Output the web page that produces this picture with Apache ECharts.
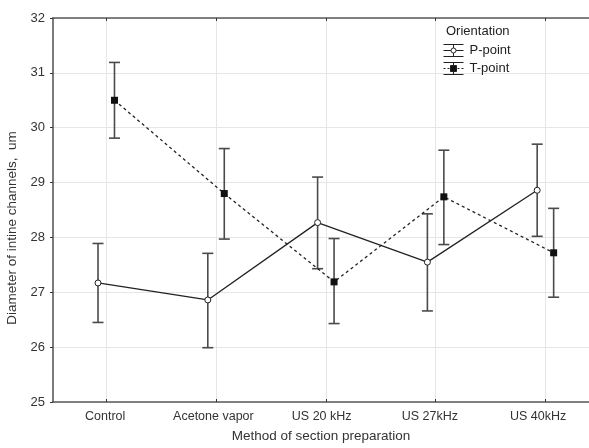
<!DOCTYPE html>
<html><head><meta charset="utf-8">
<script src="https://cdn.jsdelivr.net/npm/echarts@6/dist/echarts.min.js"></script>
<style>html,body{margin:0;padding:0;background:#fff}#c{width:589px;height:448px}</style>
</head><body><div id="c"></div>
<script>
const categories = ['Control', 'Acetone vapor', 'US 20 kHz', 'US 27kHz', 'US 40kHz'];
const pMean = [27.17, 26.86, 28.27, 27.55, 28.86];
const pLow  = [26.45, 25.99, 27.43, 26.66, 28.02];
const pHigh = [27.89, 27.71, 29.10, 28.43, 29.70];
const tMean = [30.50, 28.80, 27.19, 28.74, 27.72];
const tLow  = [29.81, 27.97, 26.43, 27.87, 26.91];
const tHigh = [31.19, 29.62, 27.98, 29.59, 28.53];
const yMin = 25, yMax = 32, yStep = 1;

const FONT = 'Liberation Sans, Arial, sans-serif';
const OFF = 0.075; // horizontal dodge of the two groups
const idx = categories.map((c, i) => i);

const pLine = idx.map(i => [i - OFF, pMean[i]]);
const tLine = idx.map(i => [i + OFF, tMean[i]]);
const pErr = idx.map(i => [i - OFF, pLow[i], pHigh[i]]);
const tErr = idx.map(i => [i + OFF, tLow[i], tHigh[i]]);

function errRender(params, api) {
  const x = api.value(0);
  const lo = api.coord([x, api.value(1)]);
  const hi = api.coord([x, api.value(2)]);
  const cap = 5.5;
  const st = { stroke: '#4a4a4a', lineWidth: 1.6 };
  return {
    type: 'group',
    children: [
      { type: 'line', shape: { x1: lo[0], y1: lo[1], x2: hi[0], y2: hi[1] }, style: st },
      { type: 'line', shape: { x1: lo[0] - cap, y1: lo[1], x2: lo[0] + cap, y2: lo[1] }, style: st },
      { type: 'line', shape: { x1: hi[0] - cap, y1: hi[1], x2: hi[0] + cap, y2: hi[1] }, style: st }
    ]
  };
}

const tickVals = idx.slice();
const labelVals = idx.map(i => i - 0.01 - 0.014 * i);
const X_MIN = -0.485, X_MAX = 4.397;

const iconP = 'path://M0,0H20M10,0V3.5M0,6H7.5M12.5,6H20M10,8.5V12M0,12H20M12.5,6A2.5,2.5,0,1,1,7.5,6A2.5,2.5,0,1,1,12.5,6Z';
const iconT = 'path://M0,0H20M10,0V3M0,6H2M4,6H6M14,6H16M18,6H20M10,9V12M0,12H20M7,3H13V9H7Z';

const chart = echarts.init(document.getElementById('c'), null, { renderer: 'canvas' });
chart.setOption({
  animation: false,
  backgroundColor: '#fff',
  textStyle: { fontFamily: FONT },
  grid: { left: 53, top: 18, right: 0, height: 384, show: false, containLabel: false, outerBoundsMode: 'none' },
  title: {
    text: 'Orientation', left: 446, top: 25, padding: 0,
    textStyle: { fontFamily: FONT, fontSize: 13, fontWeight: 'normal', color: '#222' }
  },
  legend: {
    orient: 'vertical', left: 443, top: 44, padding: 0, itemGap: 5,
    itemWidth: 20, itemHeight: 12,
    textStyle: { fontFamily: FONT, fontSize: 13, color: '#222', padding: [0, 0, 0, 1] },
    data: [
      { name: 'P-point', icon: iconP, itemStyle: { color: '#fff', borderColor: '#222', borderWidth: 1 } },
      { name: 'T-point', icon: iconT, itemStyle: { color: '#111', borderColor: '#222', borderWidth: 1 } }
    ]
  },
  xAxis: [
    {
      type: 'value', min: X_MIN, max: X_MAX, position: 'bottom',
      name: 'Method of section preparation', nameLocation: 'middle', nameGap: 27,
      nameTextStyle: { fontFamily: FONT, fontSize: 13.5, color: '#333' },
      axisLine: { show: true, onZero: false, lineStyle: { color: '#5a5a5a', width: 1.6 } },
      axisTick: { show: true, inside: true, length: 3, customValues: tickVals, lineStyle: { color: '#333' } },
      axisLabel: {
        customValues: labelVals, margin: 8, fontFamily: FONT, fontSize: 12.5, color: '#333',
        formatter: v => categories[Math.round(v)] || ''
      },
      splitLine: { show: true, lineStyle: { color: '#e6e6e6', width: 1 } }
    },
    {
      type: 'value', min: X_MIN, max: X_MAX, position: 'top',
      axisLine: { show: true, onZero: false, lineStyle: { color: '#5a5a5a', width: 1.6 } },
      axisTick: { show: true, inside: true, length: 3, customValues: tickVals, lineStyle: { color: '#333' } },
      axisLabel: { show: false },
      splitLine: { show: false }
    }
  ],
  yAxis: {
    type: 'value', min: yMin, max: yMax, interval: yStep,
    name: 'Diameter of intine channels,  um', nameLocation: 'middle', nameGap: 31,
    nameTextStyle: { fontFamily: FONT, fontSize: 13.5, color: '#333', padding: [0, 36, 0, 0] },
    axisLine: { show: true, onZero: false, lineStyle: { color: '#5a5a5a', width: 1.6 } },
    axisTick: { show: true, length: 3, lineStyle: { color: '#333' } },
    axisLabel: { margin: 8, fontFamily: FONT, fontSize: 13, color: '#333' },
    splitLine: { show: true, lineStyle: { color: '#e6e6e6', width: 1 } }
  },
  series: [
    { type: 'custom', name: 'P-err', renderItem: errRender, data: pErr, z: 2, encode: { x: 0, y: [1, 2] } },
    { type: 'custom', name: 'T-err', renderItem: errRender, data: tErr, z: 2, encode: { x: 0, y: [1, 2] } },
    {
      type: 'line', name: 'P-point', data: pLine, z: 5,
      symbol: 'circle', symbolSize: 6,
      lineStyle: { color: '#222', width: 1.3, type: 'solid' },
      itemStyle: { color: '#fff', borderColor: '#222', borderWidth: 1 }
    },
    {
      type: 'line', name: 'T-point', data: tLine, z: 5,
      symbol: 'rect', symbolSize: 7,
      lineStyle: { color: '#222', width: 1.3, type: [3, 3] },
      itemStyle: { color: '#111', borderColor: '#111', borderWidth: 0 }
    }
  ]
});
</script>
</body></html>
